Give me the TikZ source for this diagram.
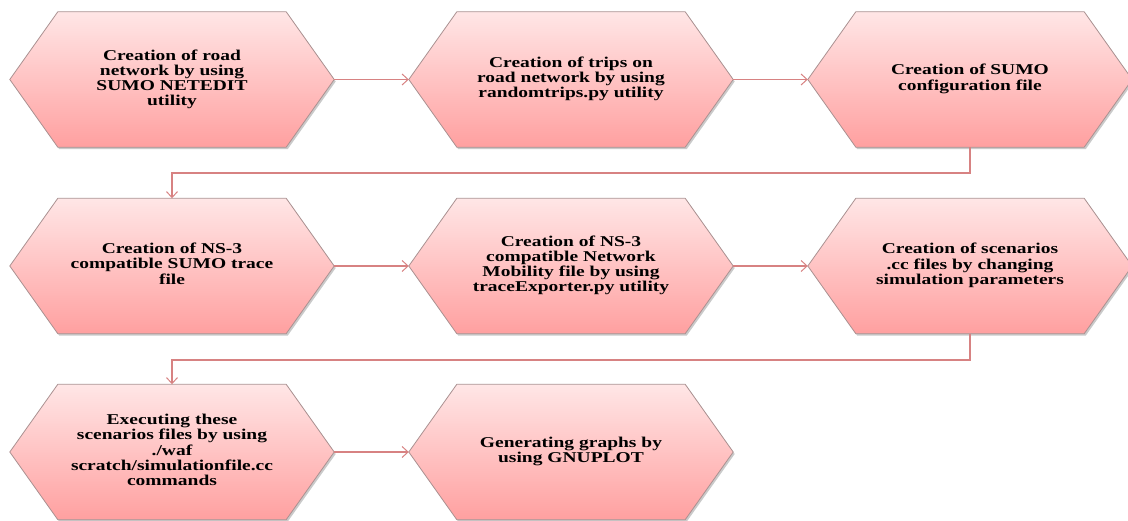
\documentclass[tikz,border=0pt]{standalone}
\usepackage{fontspec}
\setmainfont{Liberation Serif}
\usetikzlibrary{arrows.meta,shadows,backgrounds}
\definecolor{hexTop}{RGB}{255,230,230}
\definecolor{hexBot}{RGB}{255,160,160}
\definecolor{hexLine}{RGB}{170,145,145}
\definecolor{linkCol}{RGB}{215,130,130}
\tikzset{
  hexfill/.style={top color=hexTop, bottom color=hexBot, draw=hexLine, line width=0.8pt,
    drop shadow={shadow xshift=1.5pt, shadow yshift=-2pt, opacity=0.35, fill=black!60}},
  hexnode/.style={rectangle, draw=none, minimum width=324pt, minimum height=135pt,
    inner sep=0pt, align=center,
    font=\bfseries\fontsize{15}{15}\selectfont},
  link/.style={draw=linkCol, line width=1.2pt,
    -{Straight Barb[length=6pt,width=11pt,line width=1pt]}},
}
\newcommand\hexstep[4]{%
  \node[hexnode] (#1) at (#2,#3)
    {\scalebox{1.3}[1]{\begin{tabular}{@{}c@{}}#4\end{tabular}}};
  \begin{scope}[on background layer]
    \path[hexfill] (#1.west) -- ([xshift=48pt]#1.north west) -- ([xshift=-48pt]#1.north east)
      -- (#1.east) -- ([xshift=-48pt]#1.south east) -- ([xshift=48pt]#1.south west) -- cycle;
  \end{scope}
}
\begin{document}
\begin{tikzpicture}[x=1pt,y=1pt]
\useasboundingbox (0,0) rectangle (1128,521);
\hexstep{h1}{172}{441.5}{Creation of road\\network by using\\SUMO NETEDIT\\utility}
\hexstep{h2}{571}{441.5}{Creation of trips on\\road network by using\\randomtrips.py utility}
\hexstep{h3}{970}{441.5}{Creation of SUMO\\configuration file}
\hexstep{h4}{172}{255}{Creation of NS-3\\compatible SUMO trace\\file}
\hexstep{h5}{571}{255}{Creation of NS-3\\compatible Network\\Mobility file by using\\traceExporter.py utility}
\hexstep{h6}{970}{255}{Creation of scenarios\\.cc files by changing\\simulation parameters}
\hexstep{h7}{172}{69}{Executing these\\scenarios files by using\\./waf\\scratch/simulationfile.cc\\commands}
\hexstep{h8}{571}{69}{Generating graphs by\\using GNUPLOT}
\coordinate (e1) at (0,348);
\coordinate (e2) at (0,161);
\draw[link] (h1.east) -- (h2.west);
\draw[link] (h2.east) -- (h3.west);
\draw[link] (h3.south) |- (h4.north |- e1) -- (h4.north);
\draw[link] (h4.east) -- (h5.west);
\draw[link] (h5.east) -- (h6.west);
\draw[link] (h6.south) |- (h7.north |- e2) -- (h7.north);
\draw[link] (h7.east) -- (h8.west);
\end{tikzpicture}
\end{document}
